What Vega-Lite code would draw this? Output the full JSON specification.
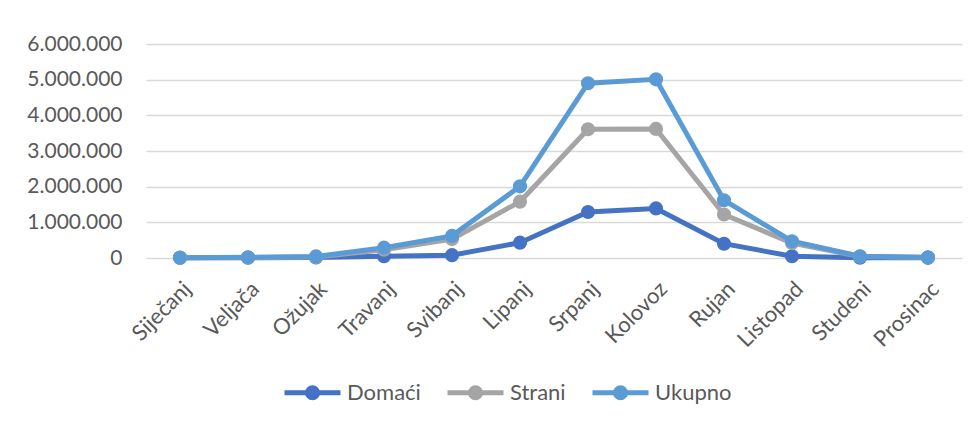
{
  "$schema": "https://vega.github.io/schema/vega-lite/v6.json",
  "width": 816,
  "height": 214,
  "autosize": {"type": "none"},
  "padding": {"left": 146, "top": 44, "right": 15, "bottom": 163},
  "background": "white",
  "config": {
    "locale": {"number": {"decimal": ",", "thousands": ".", "grouping": [3], "currency": ["", ""]}},
    "font": "Lato",
    "view": {"stroke": null},
    "axis": {"labelFont": "Lato", "labelColor": "#595959"}
  },
  "data": {
    "values": [
      {"month": "Siječanj", "series": "Domaći", "value": 5000},
      {"month": "Veljača", "series": "Domaći", "value": 8000},
      {"month": "Ožujak", "series": "Domaći", "value": 15000},
      {"month": "Travanj", "series": "Domaći", "value": 50000},
      {"month": "Svibanj", "series": "Domaći", "value": 80000},
      {"month": "Lipanj", "series": "Domaći", "value": 430000},
      {"month": "Srpanj", "series": "Domaći", "value": 1290000},
      {"month": "Kolovoz", "series": "Domaći", "value": 1390000},
      {"month": "Rujan", "series": "Domaći", "value": 400000},
      {"month": "Listopad", "series": "Domaći", "value": 50000},
      {"month": "Studeni", "series": "Domaći", "value": 10000},
      {"month": "Prosinac", "series": "Domaći", "value": 5000},
      {"month": "Siječanj", "series": "Strani", "value": 5000},
      {"month": "Veljača", "series": "Strani", "value": 12000},
      {"month": "Ožujak", "series": "Strani", "value": 30000},
      {"month": "Travanj", "series": "Strani", "value": 230000},
      {"month": "Svibanj", "series": "Strani", "value": 530000},
      {"month": "Lipanj", "series": "Strani", "value": 1580000},
      {"month": "Srpanj", "series": "Strani", "value": 3610000},
      {"month": "Kolovoz", "series": "Strani", "value": 3620000},
      {"month": "Rujan", "series": "Strani", "value": 1220000},
      {"month": "Listopad", "series": "Strani", "value": 420000},
      {"month": "Studeni", "series": "Strani", "value": 40000},
      {"month": "Prosinac", "series": "Strani", "value": 15000},
      {"month": "Siječanj", "series": "Ukupno", "value": 10000},
      {"month": "Veljača", "series": "Ukupno", "value": 20000},
      {"month": "Ožujak", "series": "Ukupno", "value": 45000},
      {"month": "Travanj", "series": "Ukupno", "value": 290000},
      {"month": "Svibanj", "series": "Ukupno", "value": 620000},
      {"month": "Lipanj", "series": "Ukupno", "value": 2010000},
      {"month": "Srpanj", "series": "Ukupno", "value": 4900000},
      {"month": "Kolovoz", "series": "Ukupno", "value": 5010000},
      {"month": "Rujan", "series": "Ukupno", "value": 1620000},
      {"month": "Listopad", "series": "Ukupno", "value": 470000},
      {"month": "Studeni", "series": "Ukupno", "value": 50000},
      {"month": "Prosinac", "series": "Ukupno", "value": 20000}
    ]
  },
  "encoding": {
    "x": {
      "field": "month",
      "type": "ordinal",
      "sort": null,
      "title": null,
      "axis": {"labelAngle": -45, "labelAlign": "right", "labelBaseline": "top", "labelFontSize": 22, "domain": false, "ticks": false, "tickSize": 0, "labelPadding": 20, "grid": false}
    },
    "y": {
      "field": "value",
      "type": "quantitative",
      "title": null,
      "scale": {"domain": [0, 6000000], "nice": false},
      "axis": {"values": [0, 1000000, 2000000, 3000000, 4000000, 5000000, 6000000], "format": ",d", "labelFontSize": 21, "domain": false, "ticks": false, "tickSize": 0, "labelPadding": 24, "grid": true, "gridColor": "#d9d9d9", "gridWidth": 1.5}
    },
    "color": {
      "field": "series",
      "type": "nominal",
      "sort": ["Domaći", "Strani", "Ukupno"],
      "scale": {"domain": ["Domaći", "Strani", "Ukupno"], "range": ["#4472C4", "#A5A5A5", "#5B9BD5"]},
      "legend": {
        "title": null,
        "orient": "none",
        "direction": "horizontal",
        "legendX": 136,
        "legendY": 318,
        "padding": 0,
        "symbolType": "M-1,0H1M-0.18,0A0.18,0.18 0 1,0 0.18,0A0.18,0.18 0 1,0 -0.18,0Z",
        "symbolSize": 3136,
        "symbolStrokeWidth": 5,
        "labelFont": "Lato",
        "labelFontSize": 22,
        "labelColor": "#595959",
        "labelOffset": 4,
        "columnPadding": 16,
        "encode": {"symbols": {"update": {"stroke": {"scale": "color", "field": "value"}, "fill": {"scale": "color", "field": "value"}, "strokeWidth": {"value": 5}, "opacity": {"value": 1}}}}
      }
    }
  },
  "layer": [
    {"mark": {"type": "line", "strokeWidth": 5}},
    {"mark": {"type": "point", "filled": true, "size": 200, "opacity": 1}}
  ]
}
